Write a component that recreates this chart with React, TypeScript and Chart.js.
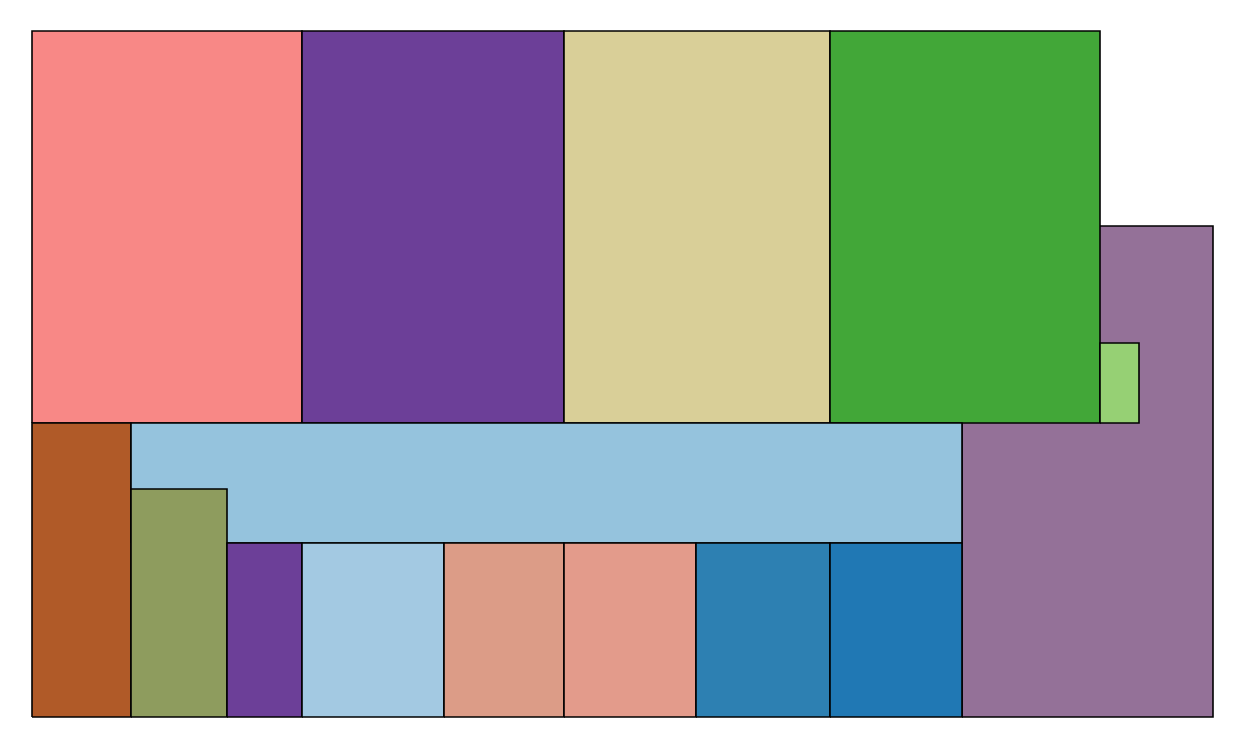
import React, { useEffect, useRef } from "react";
import { Chart, registerables } from "chart.js";

Chart.register(...registerables);

// Rectangles (data units: x 0..1181, y 0..686), listed bottom layer first
const names = [
  "A", "B", "C", "D", "E", "F", "G", "H", "I", "J", "K", "L", "M", "N", "O",
];
const x0s = [930, 0, 270, 532, 798, 1068, 0, 99, 99, 195, 270, 412, 532, 664, 798];
const x1s = [1181, 270, 532, 798, 1068, 1107, 99, 930, 195, 270, 412, 532, 664, 798, 930];
const y0s = [0, 294, 294, 294, 294, 294, 0, 174, 0, 0, 0, 0, 0, 0, 0];
const y1s = [491, 686, 686, 686, 686, 374, 294, 294, 228, 174, 174, 174, 174, 174, 174];
const colors = [
  "#947198", "#f88886", "#6c3f98", "#d9cf98", "#42a738", "#96d074",
  "#b05a28", "#95c3dd", "#8e9c5e", "#6c3f98", "#a3c9e2", "#dc9c87",
  "#e39b8b", "#2d80b2", "#2078b4",
];

export default function App() {
  const ref = useRef<HTMLCanvasElement | null>(null);

  useEffect(() => {
    if (!ref.current) return;
    const n = names.length;
    const datasets = names.map((name, i) => ({
      label: name,
      data: [
        { x: x0s[i], y: y0s[i] },
        { x: x1s[i], y: y0s[i] },
        { x: x1s[i], y: y1s[i] },
        { x: x0s[i], y: y1s[i] },
        { x: x0s[i], y: y0s[i] },
      ],
      backgroundColor: colors[i],
      borderColor: "#000000",
      borderWidth: 1.6,
      borderJoinStyle: "miter" as const,
      fill: "shape" as const,
      pointRadius: 0,
      pointHoverRadius: 0,
      tension: 0,
      order: n - i,
      clip: 4,
    }));
    const chart = new Chart(ref.current, {
      type: "line",
      data: { datasets },
      options: {
        animation: false,
        responsive: false,
        maintainAspectRatio: false,
        layout: { padding: { left: 24, top: 23, right: 25, bottom: 25 } },
        plugins: {
          legend: { display: false },
          tooltip: { enabled: false },
        },
        scales: {
          x: { type: "linear", min: 0, max: 1181, display: false },
          y: { type: "linear", min: 0, max: 686, display: false },
        },
      },
    });
    return () => chart.destroy();
  }, []);

  return (
    <div style={{ width: 1230, height: 734 }}>
      <canvas ref={ref} width={1230} height={734} />
    </div>
  );
}
